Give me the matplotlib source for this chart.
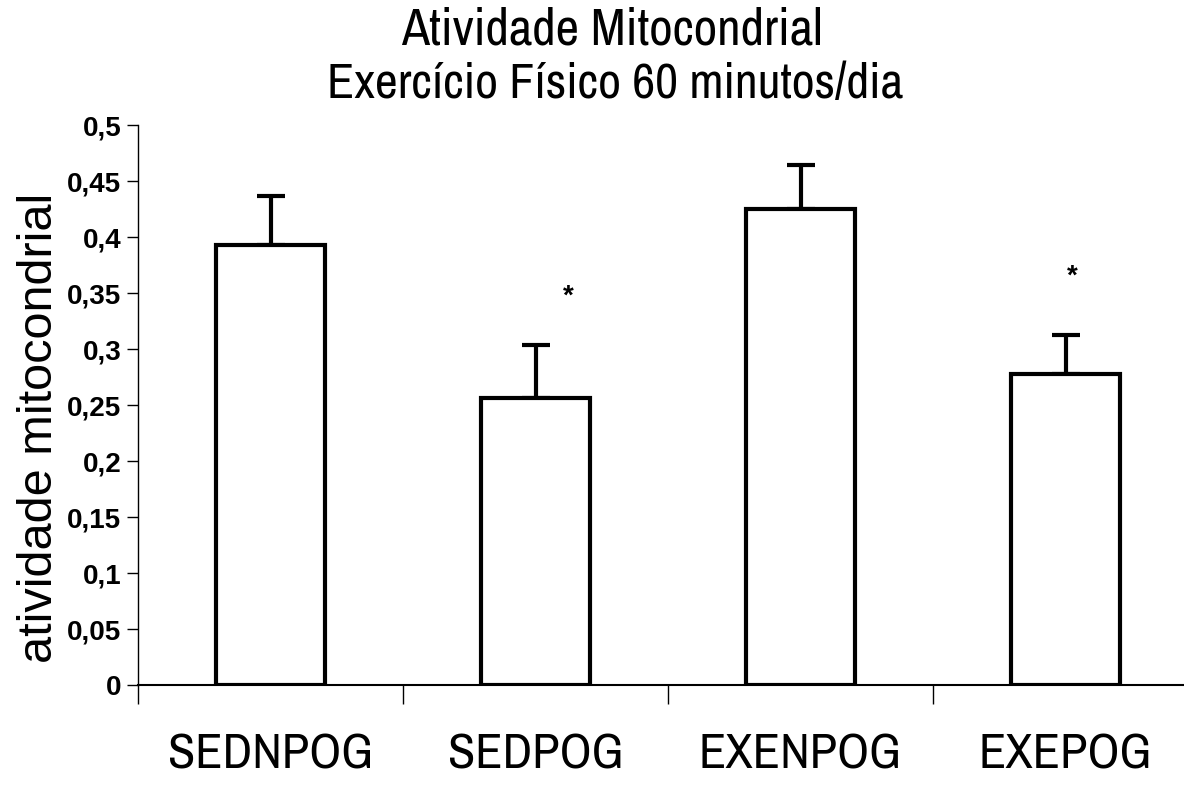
import numpy as np
import matplotlib
matplotlib.use('Agg')
import matplotlib.pyplot as plt
from matplotlib import font_manager

# dados
grupos = ['SEDNPOG', 'SEDPOG', 'EXENPOG', 'EXEPOG']
media = [0.393, 0.256, 0.425, 0.278]
erro = [0.044, 0.048, 0.039, 0.035]
# asteriscos: grupo, deslocamento em x, altura
estrelas_idx = [1, 3]
estrelas_dx = [0.125, 0.025]
estrelas_y = [0.347, 0.365]
yticks = [0, 0.05, 0.1, 0.15, 0.2, 0.25, 0.3, 0.35, 0.4, 0.45, 0.5]

nomes = {f.name for f in font_manager.fontManager.ttflist}
narrow = 'Liberation Sans'
for nome in ['Liberation Sans Narrow', 'Arial Narrow', 'Archivo Narrow', 'PT Sans Narrow',
             'Roboto Condensed', 'Pragati Narrow', 'Open Sans Condensed',
             'Fira Sans Condensed', 'IBM Plex Sans Condensed']:
    if nome in nomes:
        narrow = nome
        break

fig = plt.figure(figsize=(11.84, 7.92), dpi=100)
ax = fig.add_axes([0.1166, 0.135, 0.8834, 0.707])

x = np.arange(len(grupos))
ax.bar(x, media, width=0.41, color='white', edgecolor='black', linewidth=3, zorder=2)
ax.errorbar(x, media, yerr=[np.zeros(len(erro)), erro], fmt='none', ecolor='black',
            elinewidth=3, capsize=10, capthick=3, zorder=1)

for i, dx, yv in zip(estrelas_idx, estrelas_dx, estrelas_y):
    ax.text(x[i] + dx, yv, '*', ha='center', va='center', fontsize=20,
            family='Liberation Sans', fontweight='bold')

ax.set_xlim(-0.5, 3.447)
ax.set_ylim(0, 0.5)
ax.set_yticks(yticks)
ax.set_yticklabels([('%g' % v).replace('.', ',') for v in yticks],
                   family='Liberation Sans', fontweight='bold', fontsize=20)
ax.tick_params(axis='y', direction='out', length=8, width=1, pad=4)

# ticks do eixo x entre as categorias, rotulos no centro
ax.set_xticks(x)
ax.set_xticklabels(grupos, family=narrow, fontsize=36)
ax.tick_params(axis='x', length=0, pad=34)
ax.set_xticks(np.arange(-0.5, 3.5, 1.0), minor=True)
ax.tick_params(axis='x', which='minor', direction='out', length=14, width=1)

for s in ['top', 'right']:
    ax.spines[s].set_visible(False)
ax.spines['left'].set_linewidth(1)
ax.spines['bottom'].set_linewidth(1.5)

ax.set_ylabel('atividade mitocondrial', family='Liberation Sans', fontsize=35)
ax.yaxis.set_label_coords(-0.073, 0.46)

fig.text(0.517, 0.962, 'Atividade Mitocondrial', ha='center', va='center',
         family=narrow, fontsize=37)
fig.text(0.52, 0.893, 'Exercício Físico 60 minutos/dia', ha='center', va='center',
         family=narrow, fontsize=36)

fig.savefig('out.png', dpi=100)
